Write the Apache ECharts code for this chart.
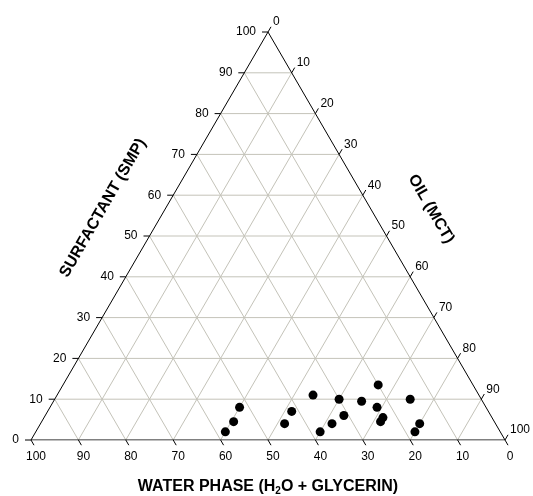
<!DOCTYPE html>
<html>
<head>
<meta charset="utf-8">
<script src="https://cdn.jsdelivr.net/npm/echarts@6/dist/echarts.min.js"></script>
<style>
  html, body { margin: 0; padding: 0; background: #fff; }
  #chart { width: 533px; height: 496px; }
</style>
</head>
<body>
<div id="chart"></div>
<script>
// Ternary composition: water phase / surfactant (SMP) / oil (MCT), in %
const waterPhase = [58, 55, 52, 44.5, 41.5, 35, 38, 34.5, 30, 31, 25.5, 20, 23, 23, 24, 15, 16, 18];
const surfactant = [2, 4.5, 8, 4, 7, 11, 2, 4, 10, 6, 9.5, 13.5, 8, 5.5, 4.5, 10, 4, 2];
const oil        = [40, 40.5, 40, 51.5, 51.5, 54, 60, 61.5, 60, 63, 65, 66.5, 69, 71.5, 71.5, 75, 80, 80];

const tickValues = [0, 10, 20, 30, 40, 50, 60, 70, 80, 90, 100];
const gridValues = [10, 20, 30, 40, 50, 60, 70, 80, 90];

const FONT = '"Liberation Sans", Arial, sans-serif';

// Barycentric (oil, surfactant) -> plane coordinates of an equilateral layout
function toXY(o, s) { return [o + s / 2, s]; }

// Interior grid lines: constant surfactant, constant oil, constant water
const gridLines = [];
gridValues.forEach(k => {
  gridLines.push(toXY(0, k).concat(toXY(100 - k, k)));        // surfactant = k
  gridLines.push(toXY(k, 0).concat(toXY(k, 100 - k)));        // oil = k
  gridLines.push(toXY(100 - k, 0).concat(toXY(0, 100 - k)));  // water = k
});

// Tick anchors on the three sides
const ticks = [];
tickValues.forEach(v => {
  ticks.push(toXY(0, v).concat([0, v]));             // left side: surfactant
  ticks.push(toXY(v, 100 - v).concat([1, v]));       // right side: oil
  ticks.push(toXY(100 - v, 0).concat([2, v]));       // bottom: water phase
});

const points = waterPhase.map((w, i) => toXY(oil[i], surfactant[i]));

const frame = [toXY(0, 0), toXY(100, 0), toXY(0, 100), toXY(0, 0)];

const chart = echarts.init(document.getElementById('chart'), null, { renderer: 'canvas' });

const C = Math.cos(Math.PI / 3), S = Math.sin(Math.PI / 3);
const TL = 6;

chart.setOption({
  animation: false,
  backgroundColor: '#fff',
  grid: { left: 31, right: 28, top: 32, bottom: 56 },
  xAxis: { type: 'value', min: 0, max: 100, show: false },
  yAxis: { type: 'value', min: 0, max: 100, show: false },
  series: [
    {
      type: 'custom',
      data: gridLines,
      silent: true,
      z: 1,
      renderItem: function (params, api) {
        const a = api.coord([api.value(0), api.value(1)]);
        const b = api.coord([api.value(2), api.value(3)]);
        return {
          type: 'line',
          shape: { x1: a[0], y1: a[1], x2: b[0], y2: b[1] },
          style: { stroke: '#c4c3b9', lineWidth: 1 }
        };
      }
    },
    {
      type: 'line',
      data: frame,
      symbol: 'none',
      silent: true,
      z: 2,
      lineStyle: { color: '#000', width: 1 }
    },
    {
      type: 'custom',
      data: ticks,
      silent: true,
      z: 3,
      renderItem: function (params, api) {
        const p = api.coord([api.value(0), api.value(1)]);
        const side = api.value(2);
        const label = String(api.value(3));
        let d, tx, ty, align;
        if (side === 0) {
          d = [-TL, 0];
          tx = p[0] - 12; ty = p[1]; align = 'right';
        } else if (side === 1) {
          d = [TL * C, -TL * S];
          tx = p[0] + 5; ty = p[1] - 10; align = 'left';
        } else {
          d = [TL * C, TL * S];
          tx = p[0] + 5; ty = p[1] + 17; align = 'center';
        }
        return {
          type: 'group',
          children: [
            {
              type: 'line',
              shape: { x1: p[0], y1: p[1], x2: p[0] + d[0], y2: p[1] + d[1] },
              style: { stroke: '#000', lineWidth: 1 }
            },
            {
              type: 'text',
              x: tx, y: ty,
              style: {
                text: label, fill: '#000', font: '12px ' + FONT,
                textAlign: align, textVerticalAlign: 'middle'
              }
            }
          ]
        };
      }
    },
    {
      type: 'scatter',
      data: points,
      symbol: 'circle',
      symbolSize: 9,
      z: 4,
      itemStyle: { color: '#000', opacity: 1 }
    }
  ],
  graphic: [
    {
      type: 'text',
      x: 268, y: 487,
      style: {
        text: '{n|WATER PHASE (H}{s|2}{n|O + GLYCERIN)}',
        textAlign: 'center', textVerticalAlign: 'middle',
        rich: {
          n: { fontFamily: FONT, fontSize: 16, fontWeight: 'bold', fill: '#000', lineHeight: 18, verticalAlign: 'middle' },
          s: { fontFamily: FONT, fontSize: 10, fontWeight: 'bold', fill: '#000', lineHeight: 18, verticalAlign: 'bottom' }
        }
      }
    },
    {
      type: 'text',
      x: 103, y: 208,
      rotation: Math.PI / 3,
      style: {
        text: 'SURFACTANT (SMP)',
        font: 'bold 16px ' + FONT, fill: '#000',
        textAlign: 'center', textVerticalAlign: 'middle'
      }
    },
    {
      type: 'text',
      x: 431, y: 209,
      rotation: -Math.PI / 3,
      style: {
        text: 'OIL (MCT)',
        font: 'bold 16px ' + FONT, fill: '#000',
        textAlign: 'center', textVerticalAlign: 'middle'
      }
    }
  ]
});
</script>
</body>
</html>
